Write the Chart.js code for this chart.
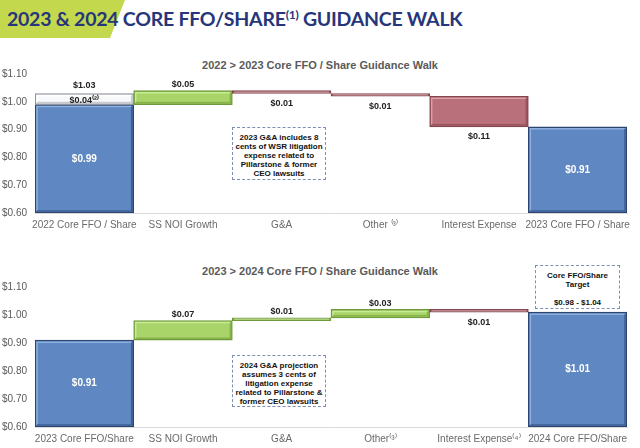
<!DOCTYPE html>
<html>
<head>
<meta charset="utf-8">
<script src="https://cdn.jsdelivr.net/npm/chart.js@4.4.0/dist/chart.umd.min.js"></script>
<style>
  body { margin: 0; width: 640px; height: 448px; background: #fff; position: relative; overflow: hidden; font-family: "Liberation Sans", Arial, sans-serif; }
  .band { position: absolute; left: 0; top: 0; width: 125px; height: 38px; background: #c3d84c; clip-path: polygon(0 0, 100% 0, 88% 100%, 0 100%); }
  .title { position: absolute; left: 7px; top: 7px; font-family: Lato, sans-serif; font-weight: 700; font-size: 19.5px; line-height: 24px; color: #27367a; white-space: nowrap; letter-spacing: -0.25px; }
  .title sup { font-size: 12px; vertical-align: 7px; line-height: 0; }
  .sub { position: absolute; left: 0; width: 640px; text-align: center; font-weight: 700; font-size: 11px; color: #5a5a5a; }
  .wrap { position: absolute; left: 0; width: 640px; }
  .note { position: absolute; border: 1px dashed #7d8fb5; background: #fff; font-weight: 700; font-size: 8px; line-height: 9px; color: #111; text-align: center; box-sizing: border-box; padding-top: 5px; }
</style>
</head>
<body>
<div class="band"></div>
<div class="title">2023 &amp; 2024 CORE FFO/SHARE<sup>(1)</sup> GUIDANCE WALK</div>

<div class="sub" style="top:59px">2022 &gt; 2023 Core FFO / Share Guidance Walk</div>
<div class="wrap" style="top:56px;height:184px"><canvas id="top"></canvas></div>

<div class="sub" style="top:265px">2023 &gt; 2024 Core FFO / Share Guidance Walk</div>
<div class="wrap" style="top:252px;height:196px"><canvas id="bottom"></canvas></div>

<div class="note" style="left:232px;top:127px;width:94px;height:53px">2023 G&amp;A includes 8<br>cents of WSR litigation<br>expense related to<br>Pillarstone &amp; former<br>CEO lawsuits</div>
<div class="note" style="left:232px;top:355px;width:94px;height:52px">2024 G&amp;A projection<br>assumes 3 cents of<br>litigation expense<br>related to Pillarstone &amp;<br>former CEO lawsuits</div>
<div class="note" style="left:535px;top:265px;width:85px;height:44px">Core FFO/Share<br>Target<br><br>$0.98 - $1.04</div>

<script>
// 2022 > 2023 walk
const topCategories = ['2022 Core FFO / Share', 'SS NOI Growth', 'G&A', 'Other \u207D\u00B3\u207E', 'Interest Expense', '2023 Core FFO / Share']
const topFrom = [0.60, 0.99, 1.04, 1.03, 1.02, 0.60]
const topTo = [0.99, 1.04, 1.03, 1.02, 0.91, 0.91]
const topLabels = ['$0.99', '$0.05', '$0.01', '$0.01', '$0.11', '$0.91']
// the $0.04 adjustment on top of the 2022 bar
const adjFrom = [0.99]
const adjTo = [1.03]
const adjLabels = ['$0.04\u207D\u00B2\u207E']
const adjTotal = ['$1.03']

// 2023 > 2024 walk
const botCategories = ['2023 Core FFO/Share', 'SS NOI Growth', 'G&A', 'Other\u207D\u00B3\u207E', 'Interest Expense\u207D\u2074\u207E', '2024 Core FFO/Share']
const botFrom = [0.60, 0.91, 0.98, 0.99, 1.02, 0.60]
const botTo = [0.91, 0.98, 0.99, 1.02, 1.01, 1.01]
const botLabels = ['$0.91', '$0.07', '$0.01', '$0.03', '$0.01', '$1.01']

const yTicks = [0.60, 0.70, 0.80, 0.90, 1.00, 1.10]

// fill, border, bevel light, bevel dark
const colors = {
    total: ['#5f87c2', '#2b4570', '#8fb0de', '#3f5f95'],
    up: ['#a8d46a', '#6e9a3a', '#c9eb94', '#86b34c'],
    down: ['#b9707a', '#84444d', '#dba0a8', '#985560'],
    adj: ['#f7f8fa', '#8f959c', '#ffffff', '#c9cdd2']
}

function kindOf(from, to, i) {
    if (i == 0 || i == from.length - 1) return 'total'
    return to[i] > from[i] ? 'up' : 'down'
}

// soft bevel inside each bar, like the original slide
const bevel = {
    id: 'bevel',
    afterDatasetsDraw(chart) {
        const ctx = chart.ctx
        ctx.save()
        chart.data.datasets.forEach((ds, di) => {
            chart.getDatasetMeta(di).data.forEach((bar, i) => {
                const c = colors[ds.kinds[i]]
                const top = Math.min(bar.y, bar.base) + 2
                const bottom = Math.max(bar.y, bar.base) - 2
                const left = bar.x - bar.width / 2 + 2
                const right = bar.x + bar.width / 2 - 2
                if (bottom - top < 4) return
                ctx.lineWidth = 1.5
                ctx.strokeStyle = c[2]
                ctx.beginPath()
                ctx.moveTo(left, bottom)
                ctx.lineTo(left, top)
                ctx.lineTo(right, top)
                ctx.stroke()
                ctx.strokeStyle = c[3]
                ctx.beginPath()
                ctx.moveTo(right, top)
                ctx.lineTo(right, bottom)
                ctx.lineTo(left, bottom)
                ctx.stroke()
            })
        })
        ctx.restore()
    }
}

// draws the value labels next to / inside each bar
const barLabels = {
    id: 'barLabels',
    afterDatasetsDraw(chart) {
        const ctx = chart.ctx
        ctx.save()
        ctx.textAlign = 'center'
        ctx.textBaseline = 'middle'
        chart.data.datasets.forEach((ds, di) => {
            const meta = chart.getDatasetMeta(di)
            meta.data.forEach((bar, i) => {
                const kind = ds.kinds[i]
                if (!kind) return
                const top = Math.min(bar.y, bar.base)
                const bottom = Math.max(bar.y, bar.base)
                ctx.font = 'bold 9px "Liberation Sans", Arial, sans-serif'
                if (kind == 'total') {
                    ctx.fillStyle = '#ffffff'
                    ctx.font = 'bold 10px "Liberation Sans", Arial, sans-serif'
                    ctx.fillText(ds.labels[i], bar.x, (top + bottom) / 2)
                } else if (kind == 'up') {
                    ctx.fillStyle = '#222'
                    ctx.fillText(ds.labels[i], bar.x, top - 6)
                } else if (kind == 'down') {
                    ctx.fillStyle = '#222'
                    ctx.fillText(ds.labels[i], bar.x, bottom + 10)
                } else if (kind == 'adj') {
                    ctx.fillStyle = '#222'
                    ctx.fillText(ds.labels[i], bar.x, (top + bottom) / 2 + 1)
                    ctx.fillText(ds.totals[i], bar.x, top - 8)
                }
            })
        })
        ctx.restore()
    }
}

function walkDataset(from, to, labels) {
    const kinds = from.map((v, i) => kindOf(from, to, i))
    return {
        data: from.map((v, i) => [v, to[i]]),
        labels: labels,
        kinds: kinds,
        backgroundColor: kinds.map(k => colors[k][0]),
        borderColor: kinds.map(k => colors[k][1]),
        borderWidth: 1.5,
        borderSkipped: false,
        grouped: false,
        barPercentage: 1,
        categoryPercentage: 1,
        order: 2
    }
}

function makeChart(id, categories, datasets, plotTop, xHeight) {
    const ctx = document.getElementById(id).getContext('2d')
    return new Chart(ctx, {
        type: 'bar',
        data: { labels: categories, datasets: datasets },
        plugins: [bevel, barLabels],
        options: {
            responsive: true,
            maintainAspectRatio: false,
            animation: false,
            events: [],
            layout: { padding: { top: plotTop, right: 13, left: 0, bottom: 0 } },
            plugins: { legend: { display: false }, tooltip: { enabled: false } },
            scales: {
                x: {
                    grid: { display: false, drawTicks: false },
                    border: { display: true, color: '#dadada', width: 1 },
                    ticks: { color: '#6a6a6a', font: { size: 10, family: '"Liberation Sans", Arial, sans-serif' }, maxRotation: 0, autoSkip: false, padding: 6 },
                    afterFit: (axis) => { axis.height = xHeight }
                },
                y: {
                    min: 0.6,
                    max: 1.1,
                    grid: { display: false, drawTicks: false },
                    border: { display: false },
                    afterBuildTicks: (axis) => { axis.ticks = yTicks.map(v => ({ value: v })) },
                    ticks: {
                        color: '#5a5a5a',
                        font: { size: 10, family: '"Liberation Sans", Arial, sans-serif' },
                        padding: 8,
                        callback: (v) => '$' + Number(v).toFixed(2)
                    },
                    afterFit: (axis) => { axis.width = 35 }
                }
            }
        }
    })
}

const adjDataset = {
    data: adjFrom.map((v, i) => [v, adjTo[i]]),
    labels: adjLabels,
    totals: adjTotal,
    kinds: adjFrom.map(() => 'adj'),
    backgroundColor: colors.adj[0],
    borderColor: colors.adj[1],
    borderWidth: 1.5,
    borderSkipped: false,
    grouped: false,
    barPercentage: 1,
    categoryPercentage: 1,
    order: 1
}

makeChart('top', topCategories, [walkDataset(topFrom, topTo, topLabels), adjDataset], 18, 27)
makeChart('bottom', botCategories, [walkDataset(botFrom, botTo, botLabels)], 35, 21)
</script>
</body>
</html>
